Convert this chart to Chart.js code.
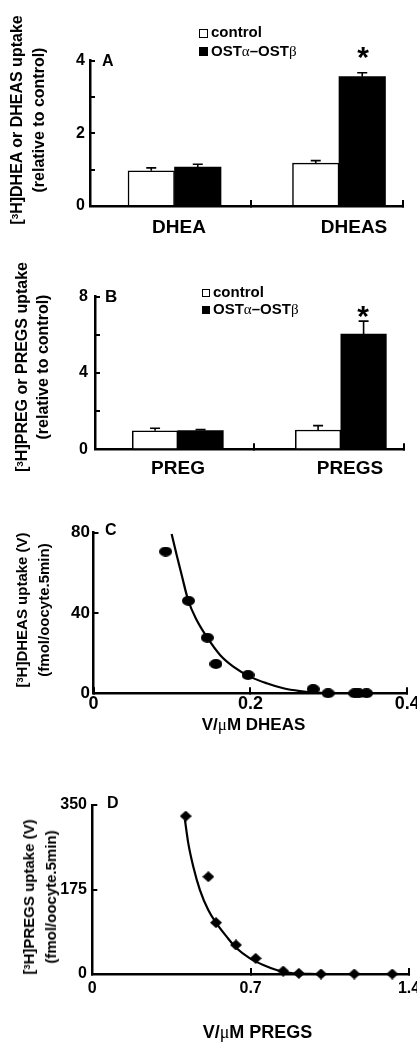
<!DOCTYPE html>
<html>
<head>
<meta charset="utf-8">
<script src="https://cdn.jsdelivr.net/npm/chart.js@4.4.1/dist/chart.umd.min.js"></script>
<style>
  html, body { margin: 0; padding: 0; background: #fff; }
  body { width: 417px; height: 1050px; position: relative; overflow: hidden;
         font-family: 'Liberation Sans', Arial, sans-serif; font-weight: bold; color: #000; }
  canvas { position: absolute; left: 0; }
  .t { position: absolute; white-space: nowrap; line-height: 1; }
  .c { transform: translateX(-50%); }
  .rot { position: absolute; white-space: nowrap; text-align: center;
         transform: translate(-50%, -50%) rotate(-90deg); }
  .g { font-family: 'Liberation Serif', 'DejaVu Serif', serif; font-weight: normal; }
  .sup { font-size: 0.62em; position: relative; top: -0.45em; }
  .sq { position: absolute; box-sizing: border-box; border: 1px solid #000; }
</style>
</head>
<body>
<canvas id="cA" width="417" height="240" style="top:0px"></canvas>
<canvas id="cB" width="417" height="250" style="top:240px"></canvas>
<canvas id="cC" width="417" height="270" style="top:490px"></canvas>
<canvas id="cD" width="417" height="290" style="top:760px"></canvas>

<!-- Panel A texts -->
<div class="rot" style="left:28px; top:120px; font-size:16px; line-height:20px;">[<span class="sup">3</span>H]DHEA or DHEAS uptake<br>(relative to control)</div>
<div class="t" style="left:102px; top:52.5px; font-size:16px;">A</div>
<div class="sq" style="left:199px; top:29px; width:9px; height:9px; background:#fff;"></div>
<div class="t" style="left:211px; top:24.3px; font-size:15px;">control</div>
<div class="sq" style="left:199px; top:47px; width:9px; height:9px; background:#000;"></div>
<div class="t" style="left:211px; top:42.8px; font-size:15px;">OST<span class="g">α</span>–OST<span class="g">β</span></div>
<div class="t c" style="left:363px; top:42px; font-size:30px;">*</div>

<!-- Panel B texts -->
<div class="rot" style="left:31.5px; top:367px; font-size:16px; line-height:19px;">[<span class="sup">3</span>H]PREG or PREGS uptake<br>(relative to control)</div>
<div class="t" style="left:105px; top:287.6px; font-size:17px;">B</div>
<div class="sq" style="left:202px; top:289px; width:8px; height:8px; background:#fff;"></div>
<div class="t" style="left:213px; top:284.3px; font-size:15px;">control</div>
<div class="sq" style="left:202px; top:306px; width:8px; height:8px; background:#000;"></div>
<div class="t" style="left:213px; top:300.8px; font-size:15px;">OST<span class="g">α</span>–OST<span class="g">β</span></div>
<div class="t c" style="left:363px; top:301px; font-size:30px;">*</div>

<!-- Panel C texts -->
<div class="rot" style="left:33px; top:610px; font-size:15px; line-height:20px;">[<span class="sup">3</span>H]DHEAS uptake (V)<br>(fmol/oocyte.5min)</div>
<div class="t" style="left:105px; top:521.5px; font-size:16px;">C</div>
<div class="t c" style="left:253.5px; top:715.6px; font-size:17px;">V/<span class="g">μ</span>M DHEAS</div>

<!-- Panel D texts -->
<div class="rot" style="left:40px; top:897px; font-size:15px; line-height:20px;">[<span class="sup">3</span>H]PREGS uptake (V)<br>(fmol/oocyte.5min)</div>
<div class="t" style="left:107px; top:794.5px; font-size:16px;">D</div>
<div class="t c" style="left:257.5px; top:1022.8px; font-size:18px;">V/<span class="g">μ</span>M PREGS</div>

<script>
// ---------------- DATA ----------------
// Panel A: relative uptake (mean, upper error)
const catsA = ['DHEA', 'DHEAS'];
const controlA = [0.97, 1.18];
const controlErrA = [0.08, 0.07];
const ostA = [1.07, 3.56];
const ostErrA = [0.08, 0.11];
const yTicksA = [0, 1, 2, 3, 4];
const yTickLabelsA = ['0', '', '2', '', '4'];

// Panel B
const catsB = ['PREG', 'PREGS'];
const controlB = [0.97, 1.01];
const controlErrB = [0.13, 0.23];
const ostB = [0.98, 6.04];
const ostErrB = [0.05, 0.68];
const yTicksB = [0, 2, 4, 6, 8];
const yTickLabelsB = ['0', '', '4', '', '8'];

// Panel C: DHEAS
const dheasX = [0.092, 0.121, 0.145, 0.156, 0.197, 0.280, 0.299, 0.333, 0.338, 0.348];
const dheasY = [70.6, 46.1, 27.7, 14.6, 9.1, 2.1, 0, 0, 0, 0];
const dheasFitX = [0.0996, 0.106, 0.1124, 0.1209, 0.1315, 0.1451, 0.1613, 0.1782, 0.1995, 0.2207, 0.242, 0.2632, 0.2845, 0.3057];
const dheasFitY = [79.4, 68.9, 58.9, 46.1, 36.5, 27.7, 19.1, 13.3, 8.3, 5.0, 2.5, 1.1, 0.3, 0];
const xTicksC = [0, 0.2, 0.4];
const xTickLabelsC = ['0', '0.2', '0.4'];
const yTicksC = [0, 40, 80];
const yTickLabelsC = ['0', '40', '80'];

// Panel D: PREGS
const pregsX = [0.413, 0.513, 0.547, 0.635, 0.722, 0.844, 0.913, 1.011, 1.158, 1.326];
const pregsY = [327, 201.5, 106.3, 60.1, 32.4, 6.2, 1.4, 0, 0, 0];
const pregsFitX = [0.4096, 0.4244, 0.4465, 0.4759, 0.5127, 0.5466, 0.5938, 0.638, 0.6969, 0.7558, 0.8147, 0.8883, 0.9915];
const pregsFitY = [318.9, 270.6, 222.3, 173.9, 132.5, 106.3, 77.3, 53.2, 32.4, 18.6, 8.3, 1.4, 0];
const xTicksD = [0, 0.7, 1.4];
const xTickLabelsD = ['0', '0.7', '1.4'];
const yTicksD = [0, 175, 350];
const yTickLabelsD = ['0', '175', '350'];

// ---------------- LAYOUT / STYLE ----------------
const W = 417;
const K = '#000';
const CLEAR = 'rgba(0,0,0,0)';
function font(size) {
  return { family: "'Liberation Sans', Arial, sans-serif", weight: 'bold', size: size, lineHeight: 1.2 };
}
function noPad(s) { s.paddingLeft = 0; s.paddingRight = 0; s.paddingTop = 0; s.paddingBottom = 0; }
function baseOptions(area) {
  return {
    responsive: false, animation: false, devicePixelRatio: 1, events: [],
    layout: { autoPadding: false, padding: { left: 0, top: area.top, right: W - area.right, bottom: 0 } },
    plugins: { legend: { display: false }, tooltip: { enabled: false }, title: { display: false } }
  };
}
function valueAxis(area, max, ticks, labels, size, pad) {
  return {
    type: 'linear', min: 0, max: max, offset: false,
    afterBuildTicks: s => { s.ticks = ticks.map(v => ({ value: v })); },
    afterFit: s => { s.width = area.left; noPad(s); },
    ticks: { color: K, font: font(size), padding: pad, autoSkip: false, callback: (v, i) => labels[i] },
    grid: { display: true, offset: false, drawOnChartArea: false, drawTicks: true, tickLength: -5, lineWidth: 2, color: K },
    border: { display: true, color: K, width: 2.5 }
  };
}
function positionAxis(H, area, min, max, ticks, labels, size, pad, gridColor) {
  return {
    type: 'linear', min: min, max: max, offset: false, z: 1,
    afterBuildTicks: s => { s.ticks = ticks.map(v => ({ value: v })); },
    afterFit: s => { s.height = H - area.bottom; noPad(s); },
    ticks: { color: K, font: font(size), padding: pad, autoSkip: false, maxRotation: 0, minRotation: 0,
             callback: (v, i) => labels[i] },
    grid: { display: true, offset: false, drawOnChartArea: false, drawTicks: true, tickLength: -6, lineWidth: 2, color: gridColor },
    border: { display: true, color: K, width: 2.5 }
  };
}
function errorBarPlugin(errs) {
  return {
    id: 'errbars',
    afterDatasetsDraw(chart) {
      const ctx = chart.ctx, ys = chart.scales.y;
      chart.data.datasets.forEach((ds, di) => {
        const meta = chart.getDatasetMeta(di);
        meta.data.forEach((bar, j) => {
          const top = ys.getPixelForValue(ds.data[j].y + errs[di][j]);
          ctx.save();
          ctx.strokeStyle = K; ctx.lineWidth = 1.6;
          ctx.beginPath();
          ctx.moveTo(bar.x, bar.y); ctx.lineTo(bar.x, top);
          ctx.moveTo(bar.x - 5, top); ctx.lineTo(bar.x + 5, top);
          ctx.stroke();
          ctx.restore();
        });
      });
    }
  };
}
function barPanel(id, H, area, cats, ctrl, ctrlErr, ost, ostErr, yMax, yTicks, yLabels, xs) {
  const opts = baseOptions(area);
  const tickVals = [xs.labels[0], xs.tick, xs.labels[1], 1];
  const tickLabs = [cats[0], '', cats[1], ''];
  opts.scales = {
    x: positionAxis(H, area, 0, 1, tickVals, tickLabs, 19, xs.pad, c => (tickLabs[c.index] ? CLEAR : K)),
    y: valueAxis(area, yMax, yTicks, yLabels, 16, xs.ypad)
  };
  new Chart(document.getElementById(id), {
    type: 'bar',
    data: {
      datasets: [
        { label: 'control', data: xs.groups.map((x, i) => ({ x: x, y: ctrl[i] })),
          backgroundColor: '#fff', borderColor: K, borderWidth: 1.5, barThickness: xs.thick },
        { label: 'OSTα–OSTβ', data: xs.groups.map((x, i) => ({ x: x, y: ost[i] })),
          backgroundColor: K, borderColor: K, borderWidth: 0, barThickness: xs.thick }
      ]
    },
    options: opts,
    plugins: [errorBarPlugin([ctrlErr, ostErr])]
  });
}
function markerImage(kind, w, h) {
  const c = document.createElement('canvas');
  c.width = w; c.height = h;
  const g = c.getContext('2d');
  g.fillStyle = K;
  g.beginPath();
  if (kind === 'ellipse') {
    g.ellipse(w / 2, h / 2, w / 2, h / 2, 0, 0, Math.PI * 2);
  } else {
    g.moveTo(w / 2, 0); g.lineTo(w, h / 2); g.lineTo(w / 2, h); g.lineTo(0, h / 2); g.closePath();
  }
  g.fill();
  return c;
}
function scatterPanel(id, H, area, px, py, fx, fy, marker, xMax, xTicks, xLabels, yMax, yTicks, yLabels, s) {
  const opts = baseOptions(area);
  opts.scales = {
    x: positionAxis(H, area, 0, xMax, xTicks, xLabels, s.xsize, s.xpad, K),
    y: valueAxis(area, yMax, yTicks, yLabels, s.ysize, s.ypad)
  };
  new Chart(document.getElementById(id), {
    type: 'scatter',
    data: {
      datasets: [
        { data: px.map((x, i) => ({ x: x, y: py[i] })), pointStyle: marker, pointRadius: 6,
          clip: false, order: 0 },
        { data: fx.map((x, i) => ({ x: x, y: fy[i] })), showLine: true, pointRadius: 0,
          borderColor: K, borderWidth: 2.2, cubicInterpolationMode: 'monotone', fill: false,
          clip: false, order: 1 }
      ]
    },
    options: opts
  });
}

// Panel A
barPanel('cA', 240, { left: 90, right: 403, top: 60.7, bottom: 206 },
  catsA, controlA, controlErrA, ostA, ostErrA, 4, yTicksA, yTickLabelsA,
  { groups: [0.270, 0.7955], labels: [0.2843, 0.8435], tick: 0.5144, thick: 46.5, pad: 16.6, ypad: 10 });
// Panel B
barPanel('cB', 250, { left: 95, right: 404, top: 56.7, bottom: 209.3 },
  catsB, controlB, controlErrB, ostB, ostErrB, 8, yTicksB, yTickLabelsB,
  { groups: [0.268, 0.7956], labels: [0.2686, 0.8252], tick: 0.5146, thick: 45.5, pad: 14.3, ypad: 12 });
// Panel C
scatterPanel('cC', 270, { left: 93.5, right: 407.3, top: 42.7, bottom: 203.3 },
  dheasX, dheasY, dheasFitX, dheasFitY, markerImage('ellipse', 13, 10),
  0.4, xTicksC, xTickLabelsC, 80, yTicksC, yTickLabelsC,
  { xsize: 18, xpad: 6, ysize: 17, ypad: 8.5 });
// Panel D
scatterPanel('cD', 290, { left: 92.3, right: 409, top: 45, bottom: 214 },
  pregsX, pregsY, pregsFitX, pregsFitY, markerImage('diamond', 12, 11),
  1.4, xTicksD, xTickLabelsD, 350, yTicksD, yTickLabelsD,
  { xsize: 16, xpad: 11.4, ysize: 16, ypad: 10.3 });
</script>
</body>
</html>
